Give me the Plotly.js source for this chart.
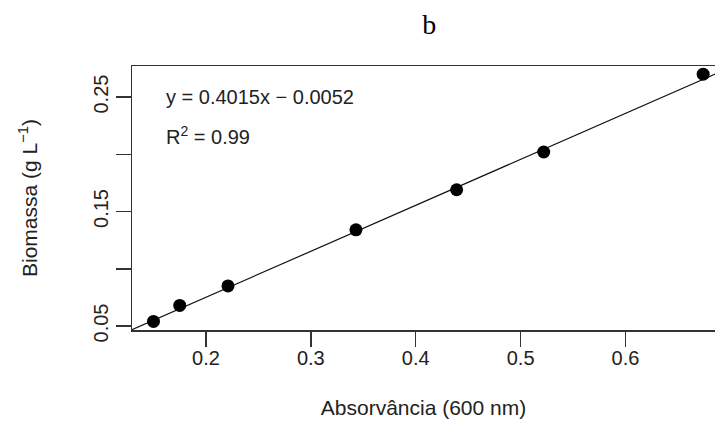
<!DOCTYPE html>
<html>
<head>
<meta charset="utf-8">
<script src="https://cdn.plot.ly/plotly-3.0.1.min.js"></script>
<style>html,body{margin:0;padding:0;background:#fff;}#chart{width:715px;height:448px;}</style>
</head>
<body>
<div id="chart"></div>
<script>
// Data
const absorbance = [0.150, 0.175, 0.221, 0.343, 0.439, 0.522, 0.674];
const biomass    = [0.054, 0.068, 0.085, 0.134, 0.169, 0.202, 0.270];
// Fitted regression (as printed on chart)
const slope = 0.4015;
const intercept = -0.0052;
const xTickVals = [0.2, 0.3, 0.4, 0.5, 0.6];
const xTickText = ['0.2', '0.3', '0.4', '0.5', '0.6'];
const yTickVals = [0.05, 0.10, 0.15, 0.20, 0.25];
const yTickText = ['0.05', '', '0.15', '', '0.25'];
const eqText = 'y = 0.4015x \u2212 0.0052';
const r2Text = 'R<sup>2</sup> = 0.99';

const fitX = [0.10, 0.75];
const fitY = fitX.map(x => slope * x + intercept);

const sans = 'Liberation Sans, Arial, sans-serif';
const ink = '#222';

const traces = [
  {x: fitX, y: fitY, mode: 'lines', line: {color: '#111', width: 1.2}, hoverinfo: 'skip', showlegend: false},
  {x: absorbance, y: biomass, mode: 'markers', marker: {color: '#000', size: 13}, showlegend: false, cliponaxis: false}
];

const layout = {
  width: 715, height: 448,
  margin: {l: 132, r: 0, t: 66, b: 118, pad: 0},
  paper_bgcolor: '#fff', plot_bgcolor: '#fff',
  showlegend: false,
  title: {text: 'b', font: {family: 'Liberation Serif, Times New Roman, serif', size: 28, color: '#000'}, x: 0.51, xref: 'paper', xanchor: 'center', y: 0.945, yref: 'container', yanchor: 'middle'},
  xaxis: {
    range: [0.1295, 0.6853], tickvals: xTickVals, ticktext: xTickText,
    ticks: 'outside', ticklen: 15, tickwidth: 1.5, tickcolor: '#333',
    showline: true, linecolor: '#333', linewidth: 1.5, mirror: true,
    showgrid: false, zeroline: false,
    tickfont: {family: sans, size: 20, color: ink},
    ticklabelstandoff: -6,
    title: {text: 'Absorvância (600 nm)', font: {family: sans, size: 21, color: ink}, standoff: 33}
  },
  yaxis: {
    range: [0.0465, 0.2771], tickvals: yTickVals, ticktext: yTickText,
    ticks: 'outside', ticklen: 15, tickwidth: 1.5, tickcolor: '#333', tickangle: -90,
    showline: true, linecolor: '#333', linewidth: 1.5,
    showgrid: false, zeroline: false,
    tickfont: {family: sans, size: 20, color: ink},
    title: {text: 'Biomassa (g L<sup>\u22121</sup>)', font: {family: sans, size: 21, color: ink}, standoff: 46}
  },
  annotations: [
    {xref: 'paper', yref: 'paper', x: 0.055, y: 0.881, xanchor: 'left', yanchor: 'middle', text: eqText, showarrow: false, font: {family: sans, size: 20, color: ink}},
    {xref: 'paper', yref: 'paper', x: 0.055, y: 0.735, xanchor: 'left', yanchor: 'middle', text: r2Text, showarrow: false, font: {family: sans, size: 20, color: ink}}
  ]
};

Plotly.newPlot('chart', traces, layout, {displayModeBar: false, staticPlot: true});
</script>
</body>
</html>
